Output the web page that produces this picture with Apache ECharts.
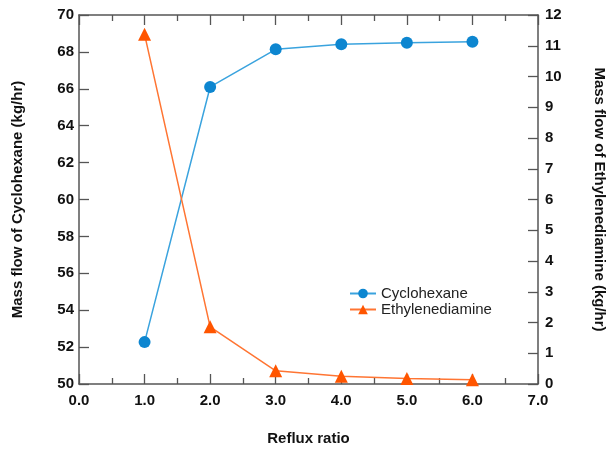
<!DOCTYPE html>
<html lang="en">
<head>
	<meta charset="UTF-8">
	<title>Reflux ratio</title>
    <script src="https://cdn.jsdelivr.net/npm/echarts@6/dist/echarts.min.js"></script>
</head>
<body style="margin:0;">
    <div id="main" style="width: 613px;height:450px;"></div>
    <script type="text/javascript">
        var myChart = echarts.init(document.getElementById('main'));

        // reflux ratio values
        var reflux = [1.0, 2.0, 3.0, 4.0, 5.0, 6.0];
        // kg/hr, left axis
        var cyclohexane = [52.27, 66.1, 68.14, 68.41, 68.5, 68.55];
        // kg/hr, right axis
        var ethylenediamine = [11.37, 1.86, 0.43, 0.25, 0.18, 0.14];

        function pairs(xs, ys) {
            var out = [];
            for (var i = 0; i < xs.length; i++) {
                out.push([xs[i], ys[i]]);
            }
            return out;
        }

        var font = 'Liberation Sans, Arial, sans-serif';
        var axisColor = '#555';
        var labelStyle = {fontFamily: font, fontSize: 15, fontWeight: 'bold', color: '#111'};

        var xCommon = {
            type: 'value',
            min: 0,
            max: 7,
            interval: 1,
            axisLine: {show: true, onZero: false, lineStyle: {color: axisColor, width: 1.5}},
            axisTick: {show: true, inside: true, length: 10, lineStyle: {color: axisColor, width: 1.3}},
            minorTick: {show: true, splitNumber: 2, length: 6, lineStyle: {color: axisColor, width: 1.3}},
            splitLine: {show: false}
        };

        option = {
            backgroundColor: '#fff',
            animation: false,
            grid: {
                left: 79,
                right: 75,
                top: 15,
                bottom: 66,
                outerBoundsMode: 'none'
            },
            legend: {
                left: 344,
                top: 281,
                orient: 'vertical',
                itemWidth: 26,
                itemHeight: 12,
                itemGap: 1,
                textStyle: {
                    fontFamily: font,
                    fontSize: 15,
                    color: '#222'
                },
                data: ['Cyclohexane', 'Ethylenediamine']
            },
            xAxis: [
                echarts.util.merge({
                    position: 'bottom',
                    name: 'Reflux ratio',
                    nameLocation: 'middle',
                    nameGap: 47,
                    nameTextStyle: labelStyle,
                    axisLabel: echarts.util.extend({
                        margin: 9,
                        formatter: function (v) { return v.toFixed(1); }
                    }, labelStyle)
                }, xCommon, true),
                echarts.util.merge({
                    position: 'top',
                    axisLabel: {show: false}
                }, xCommon, true)
            ],
            yAxis: [{
                type: 'value',
                position: 'left',
                min: 50,
                max: 70,
                interval: 2,
                name: 'Mass flow of Cyclohexane (kg/hr)',
                nameLocation: 'middle',
                nameGap: 54,
                nameTextStyle: labelStyle,
                axisLine: {show: true, onZero: false, lineStyle: {color: axisColor, width: 1.5}},
                axisTick: {show: true, inside: true, length: 10, lineStyle: {color: axisColor, width: 1.3}},
                axisLabel: echarts.util.extend({margin: 5}, labelStyle),
                splitLine: {show: false}
            }, {
                type: 'value',
                position: 'right',
                min: 0,
                max: 12,
                interval: 1,
                name: 'Mass flow of Ethylenediamine (kg/hr)',
                nameLocation: 'middle',
                nameRotate: -90,
                nameGap: 54,
                nameTextStyle: labelStyle,
                axisLine: {show: true, onZero: false, lineStyle: {color: axisColor, width: 1.5}},
                axisTick: {show: true, inside: true, length: 10, lineStyle: {color: axisColor, width: 1.3}},
                axisLabel: echarts.util.extend({margin: 7}, labelStyle),
                splitLine: {show: false}
            }],
            series: [
                {
                    name: 'Cyclohexane',
                    type: 'line',
                    xAxisIndex: 0,
                    yAxisIndex: 0,
                    data: pairs(reflux, cyclohexane),
                    symbol: 'circle',
                    symbolSize: 12,
                    lineStyle: {color: '#3aa3de', width: 1.5},
                    itemStyle: {color: '#0d86d0', borderWidth: 0}
                },
                {
                    name: 'Ethylenediamine',
                    type: 'line',
                    xAxisIndex: 0,
                    yAxisIndex: 1,
                    data: pairs(reflux, ethylenediamine),
                    symbol: 'triangle',
                    symbolSize: 13,
                    lineStyle: {color: '#ff7533', width: 1.5},
                    itemStyle: {color: '#ff5500', borderWidth: 0}
                }
            ]
        };

        myChart.setOption(option);
    </script>
</body>
</html>
